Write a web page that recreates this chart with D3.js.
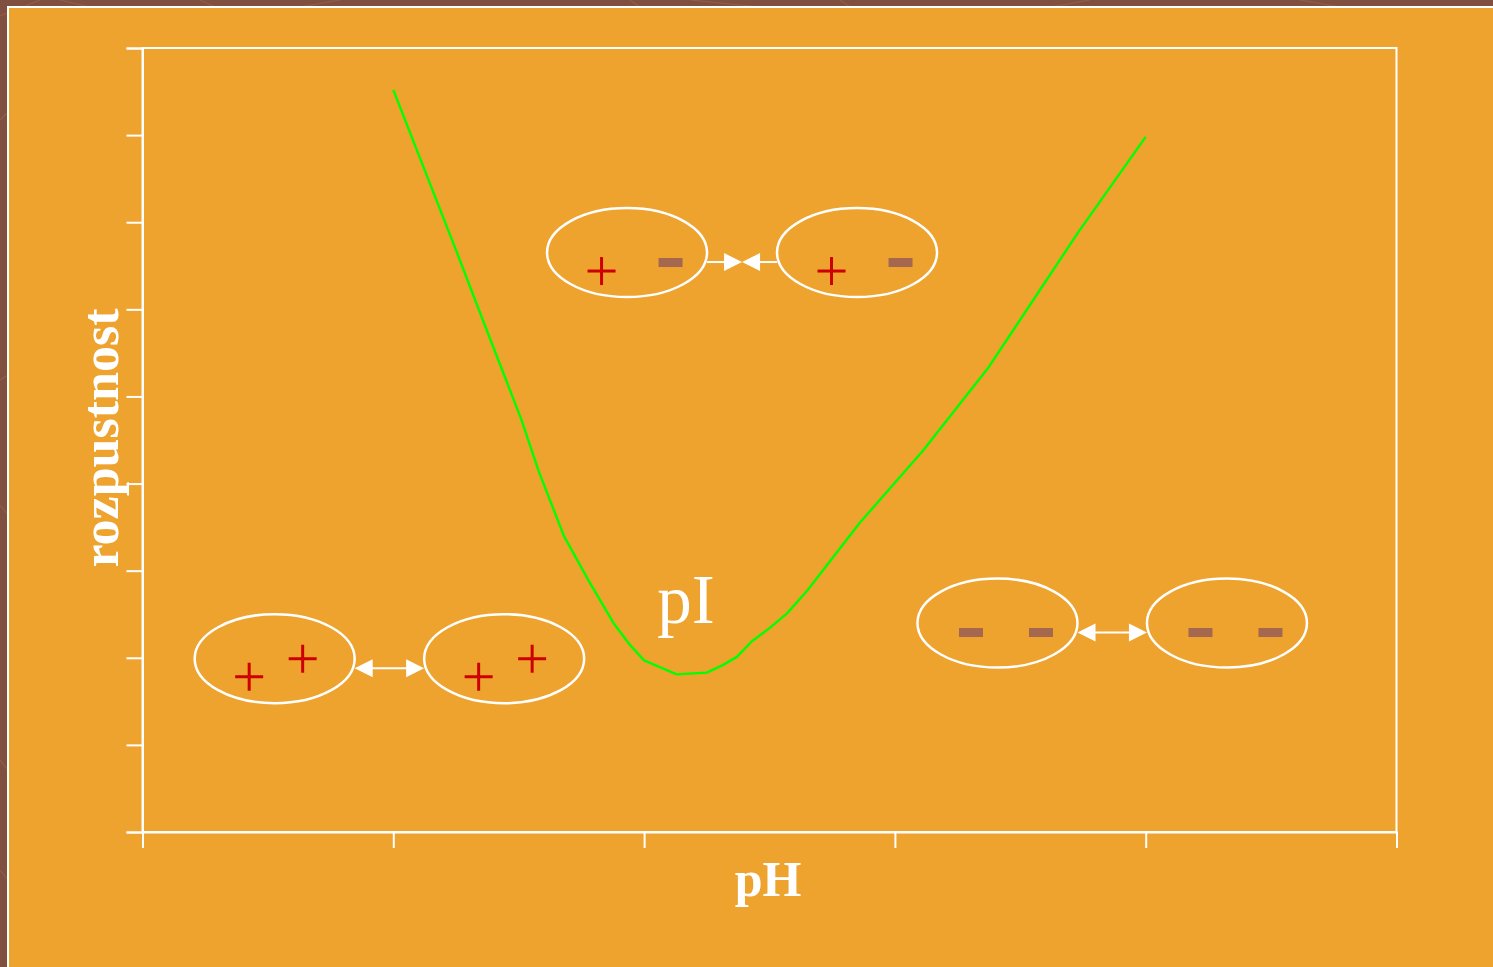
<!DOCTYPE html>
<html>
<head>
<meta charset="utf-8">
<script src="https://cdn.jsdelivr.net/npm/d3@7"></script>
<style>
  html, body { margin: 0; padding: 0; background: #7f503f; }
  svg { display: block; }
</style>
</head>
<body>
<svg id="chart" width="1493" height="967"></svg>
<script>
// ---- data ----
const phValues   = [1.00, 1.25, 1.37, 1.51, 1.58, 1.68, 1.78, 1.88, 1.94, 2.00, 2.13, 2.25, 2.31, 2.37, 2.43, 2.50, 2.57, 2.65, 2.86, 3.11, 3.37, 3.73, 4.00];
const solubility = [8.52, 6.68, 5.78, 4.74, 4.14, 3.40, 2.88, 2.39, 2.16, 1.97, 1.81, 1.83, 1.91, 2.01, 2.19, 2.34, 2.51, 2.77, 3.55, 4.37, 5.32, 6.88, 7.98];
const xTicks = [0, 1, 2, 3, 4, 5];
const yTicks = [0, 1, 2, 3, 4, 5, 6, 7, 8, 9];
const xLabel = "pH";
const yLabel = "rozpustnost";
const pointLabel = "pI";

// charge diagrams (ellipse centres in data units)
const pairCationic = [[0.527, 1.989], [1.442, 1.989]];
const pairZwitter  = [[1.932, 6.652], [2.849, 6.652]];
const pairAnionic  = [[3.409, 2.399], [4.324, 2.399]];

// ---- layout ----
const W = 1493, H = 967;
const svg = d3.select("#chart");
const x = d3.scaleLinear().domain([0, 5]).range([142.5, 1396.5]);
const y = d3.scaleLinear().domain([0, 9]).range([832, 48]);

const ORANGE = "#efa32f", WHITE = "#ffffff", RED = "#cc0000", MINUS = "#a6674f";

// background texture
const tex = svg.append("g").attr("stroke", "#9a6350").attr("stroke-width", 1.2).attr("opacity", 0.7);
[[0,16,40,0],[60,0,90,7],[200,0,215,7],[300,7,340,0],[630,0,640,7],[690,0,760,7],[840,0,850,7],[1050,7,1090,0],[1300,0,1340,7],[0,120,8,112],[0,380,8,375],[0,505,8,515],[0,760,8,770],[0,870,8,880]]
  .forEach(l => tex.append("line").attr("x1", l[0]).attr("y1", l[1]).attr("x2", l[2]).attr("y2", l[3]));

svg.append("rect").attr("x", 8).attr("y", 7).attr("width", W + 20).attr("height", H + 20)
  .attr("fill", ORANGE).attr("stroke", WHITE).attr("stroke-width", 2);

// ---- axes ----
const axG = svg.append("g");
axG.append("rect").attr("x", x(0)).attr("y", y(9)).attr("width", x(5) - x(0)).attr("height", y(0) - y(9))
  .attr("fill", "none").attr("stroke", WHITE).attr("stroke-width", 2);

const yAxis = axG.append("g").attr("transform", `translate(${x(0)},0)`)
  .call(d3.axisLeft(y).tickValues(yTicks).tickSize(16).tickFormat(""));
const xAxis = axG.append("g").attr("transform", `translate(0,${y(0)})`)
  .call(d3.axisBottom(x).tickValues(xTicks).tickSize(16).tickFormat(""));
[yAxis, xAxis].forEach(a => {
  a.select(".domain").attr("stroke", WHITE).attr("stroke-width", 2);
  a.selectAll(".tick line").attr("stroke", WHITE).attr("stroke-width", 2);
});

// axis titles
svg.append("text").attr("x", 768).attr("y", 896).attr("text-anchor", "middle")
  .attr("font-family", "Liberation Serif, Times New Roman, serif").attr("font-weight", "bold")
  .attr("font-size", 50).attr("fill", WHITE).text(xLabel);
svg.append("text").attr("transform", "translate(118,438) rotate(-90)").attr("text-anchor", "middle")
  .attr("font-family", "Liberation Serif, Times New Roman, serif").attr("font-weight", "bold")
  .attr("font-size", 52).attr("fill", WHITE).text(yLabel);

// ---- curve ----
const pts = phValues.map((v, i) => [v, solubility[i]]);
svg.append("path").datum(pts)
  .attr("d", d3.line().x(d => x(d[0])).y(d => y(d[1])))
  .attr("fill", "none").attr("stroke", "#00ff00").attr("stroke-width", 2.4).attr("stroke-linejoin", "round");

// pI label
svg.append("text").attr("x", 686).attr("y", 623).attr("text-anchor", "middle")
  .attr("font-family", "Liberation Serif, Times New Roman, serif")
  .attr("font-size", 69).attr("fill", WHITE).text(pointLabel);

// ---- charge diagrams ----
const RX = 80, RY = 44.5;
const ann = svg.append("g");

function plus(cx, cy) {
  ann.append("line").attr("x1", cx - 14).attr("x2", cx + 14).attr("y1", cy).attr("y2", cy)
    .attr("stroke", RED).attr("stroke-width", 3);
  ann.append("line").attr("x1", cx).attr("x2", cx).attr("y1", cy - 14).attr("y2", cy + 14)
    .attr("stroke", RED).attr("stroke-width", 3);
}
function minus(cx, cy) {
  ann.append("rect").attr("x", cx - 12).attr("y", cy - 4.5).attr("width", 24).attr("height", 9).attr("fill", MINUS);
}
function ellipse(cx, cy) {
  ann.append("ellipse").attr("cx", cx).attr("cy", cy).attr("rx", RX).attr("ry", RY)
    .attr("fill", "none").attr("stroke", WHITE).attr("stroke-width", 2.5);
}
function head(tipX, yy, dir) { // dir = +1 points right, -1 points left
  const L = 18, h = 9;
  ann.append("path").attr("d", `M${tipX},${yy}L${tipX - dir * L},${yy - h}L${tipX - dir * L},${yy + h}Z`).attr("fill", WHITE);
}
function hline(x1, x2, yy) {
  ann.append("line").attr("x1", x1).attr("x2", x2).attr("y1", yy).attr("y2", yy).attr("stroke", WHITE).attr("stroke-width", 2);
}
function doubleArrow(pair) {
  const a = pair[0], b = pair[1];
  const yy = y(a[1]) + 9.5;
  const x1 = x(a[0]) + RX, x2 = x(b[0]) - RX;
  hline(x1 + 10, x2 - 10, yy);
  head(x1, yy, -1);
  head(x2, yy, 1);
}
function convergingArrows(pair) {
  const a = pair[0], b = pair[1];
  const yy = y(a[1]) + 9.5;
  const x1 = x(a[0]) + RX, x2 = x(b[0]) - RX, mid = (x1 + x2) / 2;
  hline(x1, mid - 10, yy);
  hline(mid + 10, x2, yy);
  head(mid, yy, 1);
  head(mid, yy, -1);
}

pairCationic.forEach(c => {
  const cx = x(c[0]), cy = y(c[1]);
  ellipse(cx, cy);
  plus(cx - 25.5, cy + 18);
  plus(cx + 28, cy);
});
doubleArrow(pairCationic);

pairZwitter.forEach(c => {
  const cx = x(c[0]), cy = y(c[1]);
  ellipse(cx, cy);
  plus(cx - 25.5, cy + 18.5);
  minus(cx + 43.5, cy + 10);
});
convergingArrows(pairZwitter);

pairAnionic.forEach(c => {
  const cx = x(c[0]), cy = y(c[1]);
  ellipse(cx, cy);
  minus(cx - 26.5, cy + 9.5);
  minus(cx + 43.5, cy + 9.5);
});
doubleArrow(pairAnionic);
</script>
</body>
</html>
